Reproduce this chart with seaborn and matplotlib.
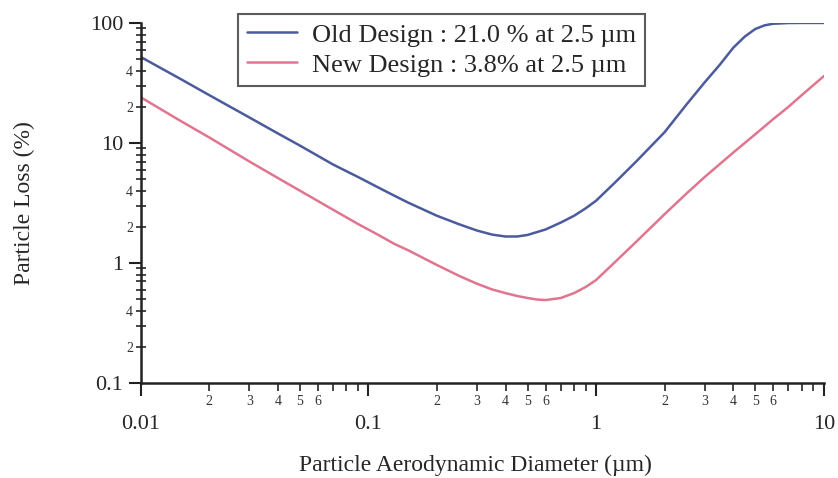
import matplotlib
matplotlib.use("Agg")
import matplotlib.pyplot as plt
import matplotlib.ticker as mticker
import pandas as pd
import seaborn as sns

# values (log-log)
old_d = [0.01, 0.015, 0.02, 0.03, 0.04, 0.05, 0.07, 0.09, 0.11, 0.13, 0.15, 0.2, 0.25,
         0.3, 0.35, 0.4, 0.45, 0.5, 0.6, 0.7, 0.8, 0.9, 1.0, 1.2, 1.5, 2.0, 2.5, 3.0,
         3.5, 4.0, 4.5, 5.0, 5.5, 6.0, 7.0, 8.0, 10.0]
old_loss = [52, 34, 25, 16.3, 12.0, 9.5, 6.6, 5.2, 4.27, 3.63, 3.17, 2.47, 2.1,
            1.86, 1.72, 1.66, 1.66, 1.71, 1.9, 2.17, 2.47, 2.85, 3.3, 4.6, 7.0, 12.3, 21, 32,
            45, 62, 77, 89, 95.5, 98.5, 99.8, 100, 100]

new_d = [0.01, 0.015, 0.02, 0.03, 0.04, 0.05, 0.07, 0.09, 0.11, 0.13, 0.15, 0.2, 0.25,
         0.3, 0.35, 0.4, 0.45, 0.5, 0.55, 0.6, 0.7, 0.8, 0.9, 1.0, 1.2, 1.5, 2.0, 2.5,
         3.0, 4.0, 5.0, 6.0, 7.0, 8.0, 10.0]
new_loss = [24, 15.2, 11.1, 7.0, 5.1, 4.0, 2.77, 2.11, 1.72, 1.44, 1.27, 0.96, 0.78,
            0.67, 0.60, 0.56, 0.53, 0.51, 0.495, 0.49, 0.51, 0.56, 0.63, 0.72, 1.0, 1.5, 2.55, 3.8,
            5.2, 8.3, 11.8, 15.8, 20, 25, 36]

old_label = "Old Design : 21.0 % at 2.5 µm"
new_label = "New Design : 3.8% at 2.5 µm"

df = pd.concat([
    pd.DataFrame({"d": old_d, "loss": old_loss, "design": old_label}),
    pd.DataFrame({"d": new_d, "loss": new_loss, "design": new_label}),
])

sns.set_style("ticks")
plt.rcParams["font.family"] = ["Liberation Serif", "DejaVu Serif"]

fig = plt.figure(figsize=(8.38, 4.78), dpi=100)
ax = fig.add_axes([0.168, 0.199, 0.815, 0.753])

sns.lineplot(data=df, x="d", y="loss", hue="design",
             palette={old_label: "#4b5b9c", new_label: "#e07590"},
             linewidth=1.8, ax=ax, legend=True)

ax.set_xscale("log")
ax.set_yscale("log")
ax.set_xlim(0.01, 10)
ax.set_ylim(0.1, 100)

ax.set_xticks([0.01, 0.1, 1, 10])
ax.set_xticklabels(["0.01", "0.1", "1", "10"])
ax.set_yticks([0.1, 1, 10, 100])
ax.set_yticklabels(["0.1", "1", "10", "100"])


def minor_fmt(keep):
    def f(v, pos):
        m = round(v / 10 ** int(f"{v:e}".split("e")[1]))
        return str(m) if m in keep else ""
    return f


ax.xaxis.set_minor_locator(mticker.LogLocator(base=10, subs=range(2, 10)))
ax.yaxis.set_minor_locator(mticker.LogLocator(base=10, subs=range(2, 10)))
ax.xaxis.set_minor_formatter(mticker.FuncFormatter(minor_fmt({2, 3, 4, 5, 6})))
ax.yaxis.set_minor_formatter(mticker.FuncFormatter(minor_fmt({2, 4})))

ax.tick_params(axis="both", which="major", direction="out", length=9, width=1.5,
               labelsize=16, color="#222222")
ax.tick_params(axis="x", which="major", pad=14)
ax.tick_params(axis="x", which="minor", direction="out", length=6, width=1.2,
               labelsize=10, pad=3, labelcolor="#333333")
ax.tick_params(axis="y", which="minor", direction="inout", length=7, width=1.2,
               labelsize=10, pad=2, labelcolor="#333333")

sns.despine(ax=ax)
for s in ["left", "bottom"]:
    ax.spines[s].set_linewidth(1.8)
    ax.spines[s].set_color("#222222")

ax.set_xlabel("Particle Aerodynamic Diameter (µm)", fontsize=17)
ax.set_ylabel("Particle Loss (%)", fontsize=17)
ax.xaxis.set_label_coords(0.49, -0.2)
ax.yaxis.set_label_coords(-0.155, 0.5)

leg = ax.legend(loc="upper left", bbox_to_anchor=(0.142, 1.025), borderaxespad=0,
                fontsize=19, frameon=True, fancybox=False, edgecolor="#333333",
                handlelength=1.9, handletextpad=0.55, borderpad=0.35,
                labelspacing=0.25)
leg.get_frame().set_linewidth(1.5)
leg.set_title(None)

fig.savefig("out.png", dpi=100)
